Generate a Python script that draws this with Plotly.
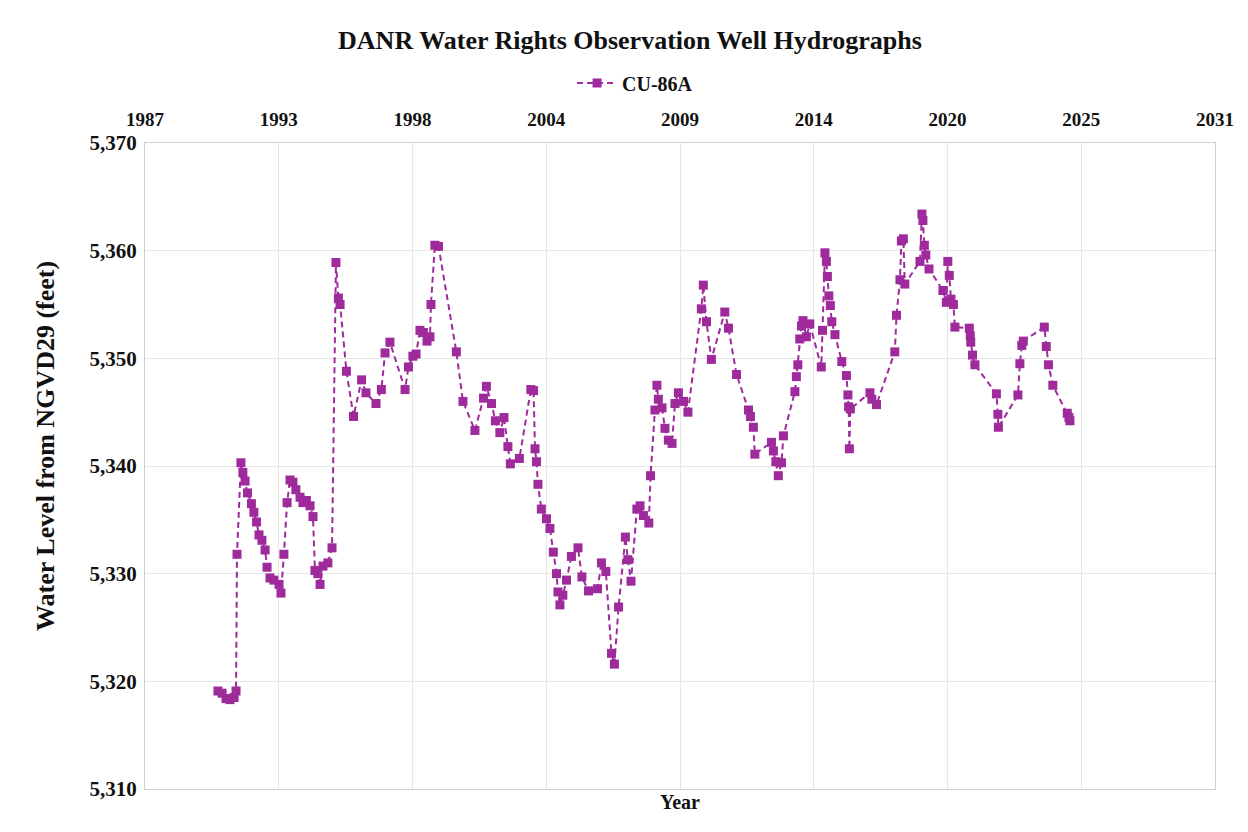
import plotly.graph_objects as go

# ---- data (decimal year, water level in feet) ----
years = [
    1990.58, 1990.75, 1990.91, 1991.07, 1991.24, 1991.32, 1991.36, 1991.52, 1991.60, 1991.69,
    1991.79, 1991.95, 1992.05, 1992.16, 1992.26, 1992.38, 1992.51, 1992.59, 1992.71, 1992.87,
    1993.08, 1993.16, 1993.28, 1993.41, 1993.53, 1993.65, 1993.77, 1993.94, 1994.06, 1994.20,
    1994.35, 1994.47, 1994.55, 1994.67, 1994.76, 1994.88, 1995.08, 1995.25, 1995.41, 1995.51,
    1995.58, 1995.84, 1996.13, 1996.46, 1996.64, 1997.05, 1997.27, 1997.42, 1997.62, 1998.24,
    1998.38, 1998.56, 1998.69, 1998.85, 1998.99, 1999.14, 1999.26, 1999.30, 1999.46, 1999.61,
    2000.34, 2000.61, 2001.10, 2001.45, 2001.57, 2001.78, 2001.94, 2002.12, 2002.29, 2002.45,
    2002.55, 2002.92, 2003.39, 2003.50, 2003.56, 2003.62, 2003.68, 2003.82, 2004.03, 2004.17,
    2004.31, 2004.44, 2004.50, 2004.58, 2004.70, 2004.85, 2005.05, 2005.32, 2005.48, 2005.75,
    2006.12, 2006.28, 2006.46, 2006.69, 2006.81, 2006.98, 2007.26, 2007.36, 2007.49, 2007.73,
    2007.86, 2008.00, 2008.22, 2008.29, 2008.47, 2008.55, 2008.61, 2008.76, 2008.88, 2009.02,
    2009.17, 2009.29, 2009.43, 2009.64, 2009.82, 2010.37, 2010.45, 2010.58, 2010.78, 2011.33,
    2011.48, 2011.81, 2012.30, 2012.38, 2012.50, 2012.56, 2013.24, 2013.32, 2013.42, 2013.52,
    2013.65, 2013.73, 2014.20, 2014.26, 2014.32, 2014.40, 2014.47, 2014.53, 2014.67, 2014.81,
    2015.28, 2015.33, 2015.43, 2015.49, 2015.53, 2015.59, 2015.65, 2015.71, 2015.84, 2016.12,
    2016.31, 2016.37, 2016.40, 2016.43, 2016.47, 2017.27, 2017.35, 2017.54, 2018.29, 2018.36,
    2018.50, 2018.56, 2018.64, 2018.70, 2019.32, 2019.40, 2019.44, 2019.50, 2019.56, 2019.69,
    2020.26, 2020.40, 2020.46, 2020.52, 2020.59, 2020.69, 2020.75, 2021.34, 2021.38, 2021.40,
    2021.47, 2021.57, 2022.45, 2022.51, 2022.53, 2023.33, 2023.41, 2023.49, 2023.55, 2024.41,
    2024.49, 2024.58, 2024.76, 2025.35, 2025.42, 2025.46,
]
levels = [
    5319.1, 5318.9, 5318.4, 5318.3, 5318.5, 5319.1, 5331.8, 5340.3, 5339.4, 5338.6,
    5337.5, 5336.5, 5335.7, 5334.8, 5333.6, 5333.1, 5332.2, 5330.6, 5329.6, 5329.4,
    5329.0, 5328.2, 5331.8, 5336.6, 5338.7, 5338.5, 5337.8, 5337.1, 5336.6, 5336.8,
    5336.3, 5335.3, 5330.3, 5330.0, 5329.0, 5330.7, 5331.0, 5332.4, 5358.9, 5355.6,
    5355.0, 5348.8, 5344.6, 5348.0, 5346.8, 5345.8, 5347.1, 5350.5, 5351.5, 5347.1,
    5349.2, 5350.2, 5350.4, 5352.6, 5352.4, 5351.6, 5352.0, 5355.0, 5360.5, 5360.4,
    5350.6, 5346.0, 5343.3, 5346.3, 5347.4, 5345.8, 5344.2, 5343.1, 5344.5, 5341.8,
    5340.2, 5340.7, 5347.1, 5347.0, 5341.6, 5340.4, 5338.3, 5336.0, 5335.1, 5334.2,
    5332.0, 5330.0, 5328.3, 5327.1, 5328.0, 5329.4, 5331.6, 5332.4, 5329.7, 5328.4,
    5328.6, 5331.0, 5330.2, 5322.6, 5321.6, 5326.9, 5333.4, 5331.3, 5329.3, 5336.0,
    5336.3, 5335.4, 5334.7, 5339.1, 5345.2, 5347.5, 5346.2, 5345.4, 5343.5, 5342.4,
    5342.1, 5345.8, 5346.8, 5346.0, 5345.0, 5354.6, 5356.8, 5353.4, 5349.9, 5354.3,
    5352.8, 5348.5, 5345.2, 5344.6, 5343.6, 5341.1, 5342.2, 5341.4, 5340.4, 5339.1,
    5340.3, 5342.8, 5346.9, 5348.3, 5349.4, 5351.8, 5353.0, 5353.5, 5352.0, 5353.2,
    5349.2, 5352.6, 5359.8, 5359.0, 5357.6, 5355.8, 5354.9, 5353.4, 5352.2, 5349.7,
    5348.4, 5346.6, 5345.5, 5341.6, 5345.3, 5346.8, 5346.2, 5345.7, 5350.6, 5354.0,
    5357.3, 5360.9, 5361.1, 5356.9, 5359.0, 5363.4, 5362.8, 5360.5, 5359.6, 5358.3,
    5356.3, 5355.2, 5359.0, 5357.7, 5355.5, 5355.0, 5352.9, 5352.8, 5352.1, 5351.5,
    5350.3, 5349.4, 5346.7, 5344.8, 5343.6, 5346.6, 5349.5, 5351.2, 5351.6, 5352.9,
    5351.1, 5349.4, 5347.5, 5344.9, 5344.5, 5344.2,
]

series_name = "CU-86A"
x_tick_labels = ["1987", "1993", "1998", "2004", "2009", "2014", "2020", "2025", "2031"]
x_axis_start = 1987.593          # axis origin (decimal year)
x_major_unit_days = 2000         # spacing between labelled ticks
y_range = [5310, 5370]
y_step = 10

tick_step = x_major_unit_days / 365.25
x_tick_vals = [x_axis_start + k * tick_step for k in range(len(x_tick_labels))]
x_range = [x_tick_vals[0], x_tick_vals[-1]]

COLOR = "#9E2A9B"
FONT = "Liberation Serif, Times New Roman, serif"
W, H = 1240, 824

fig = go.Figure()
fig.add_trace(go.Scatter(
    x=years, y=levels, name=series_name, mode="lines+markers",
    line=dict(color=COLOR, width=2, dash="6px,4px"),
    marker=dict(symbol="square", size=9, color=COLOR),
))

fig.update_layout(
    width=W, height=H,
    paper_bgcolor="white", plot_bgcolor="white",
    margin=dict(l=137, r=33, t=135, b=43),
    font=dict(family=FONT, size=19, color="#111111"),
    title=dict(text="DANR Water Rights Observation Well Hydrographs",
               x=622 / W, xref="container", xanchor="center",
               y=1 - 32 / H, yanchor="middle",
               font=dict(family=FONT, size=26, weight="bold", color="#111111")),
    showlegend=True,
    legend=dict(orientation="h", x=0.458, xanchor="center", y=1.093, yanchor="middle",
                font=dict(family=FONT, size=20, weight="bold"),
                itemwidth=40,
                bgcolor="rgba(0,0,0,0)"),
    xaxis=dict(side="top", range=x_range, tickmode="array",
               tickvals=x_tick_vals, ticktext=x_tick_labels,
               showgrid=True, gridcolor="#e6e6e6", gridwidth=1,
               zeroline=False, showline=True, linecolor="#d0d0d0", mirror=True,
               ticks="", ticklabelstandoff=8,
               tickfont=dict(family=FONT, size=19, weight="bold")),
    yaxis=dict(range=y_range, dtick=y_step, tick0=y_range[0], tickformat=",d",
               showgrid=True, gridcolor="#e6e6e6", gridwidth=1,
               zeroline=False, showline=True, linecolor="#d0d0d0", mirror=True,
               ticks="", ticklabelstandoff=3,
               tickfont=dict(family=FONT, size=21, weight="bold")),
)

fig.add_annotation(text="Water Level from NGVD29 (feet)", textangle=-90,
                   xref="paper", yref="paper", x=(37 - 137) / 1070, y=1 - (438 - 135) / 646,
                   xanchor="center", yanchor="middle", showarrow=False,
                   font=dict(family=FONT, size=26, weight="bold", color="#111111"))

fig.add_annotation(text="Year", xref="paper", yref="paper", x=0.5, y=-13 / 646,
                   xanchor="center", yanchor="middle", showarrow=False,
                   font=dict(family=FONT, size=20, weight="bold", color="#111111"))

fig.write_html("out.html")
